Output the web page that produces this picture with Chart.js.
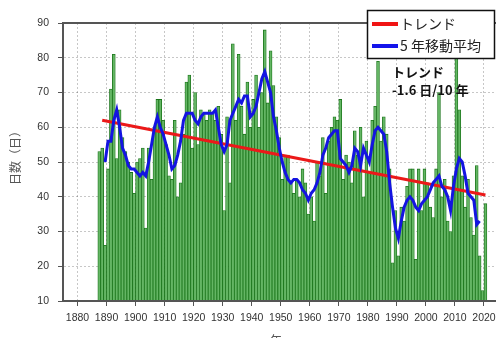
<!DOCTYPE html>
<html>
<head>
<meta charset="utf-8">
<script src="https://cdn.jsdelivr.net/npm/chart.js@4"></script>
<style>
  html, body { margin: 0; padding: 0; background: #fff; overflow: hidden; }
  #wrap { position: absolute; left: 0; top: 0; width: 510px; height: 338px; }
</style>
</head>
<body>
<div id="wrap"><canvas id="chart" width="510" height="338"></canvas></div>
<script>
// yearly counts (bars), 1887-2020
const firstYear = 1887;
const dayCounts = [
  53, 54, 26, 48, 71, 81, 51, 65, 57, 53,   // 1887-1896
  50, 47, 41, 50, 51, 54, 31, 54, 45, 60,   // 1897-1906
  68, 68, 62, 55, 46, 45, 62, 40, 44, 58,   // 1907-1916
  73, 75, 54, 70, 55, 65, 64, 62, 65, 64,   // 1917-1926
  62, 66, 58, 36, 63, 44, 84, 62, 81, 66,   // 1927-1936
  58, 73, 60, 68, 75, 60, 70, 88, 67, 82,   // 1937-1946
  72, 63, 57, 45, 52, 52, 44, 41, 45, 40,   // 1947-1956
  48, 44, 35, 40, 33, 50, 46, 57, 41, 56,   // 1957-1966
  60, 63, 62, 68, 45, 52, 50, 44, 59, 52,   // 1967-1976
  60, 40, 56, 47, 62, 66, 79, 56, 63, 58,   // 1977-1986
  48, 21, 36, 23, 37, 33, 43, 48, 48, 22,   // 1987-1996
  48, 36, 48, 44, 37, 34, 48, 70, 40, 45,   // 1997-2006
  33, 30, 46, 82, 65, 46, 37, 45, 34, 29,   // 2007-2016
  49, 23, 13, 38                            // 2017-2020
];

// 5-year moving average as drawn, 1889-2018
const maFirstYear = 1889;
const movingAvg = [
  50, 56, 56, 62, 65, 60, 54, 52, 49, 48,   // 1889-1898
  48, 47, 46, 47, 46, 50, 55, 60, 63, 60,   // 1899-1908
  58, 55, 52, 48, 49, 52, 56, 62, 64, 64,   // 1909-1918
  64, 62, 61, 63, 64, 64, 64, 64, 65, 60,   // 1919-1928
  55, 53, 55, 62, 64, 66, 68, 67, 69, 69,   // 1929-1938
  63, 64, 66, 70, 74, 76, 73, 70, 63, 59,   // 1939-1948
  54, 50, 47, 45, 44, 45, 45, 44, 42, 41,   // 1949-1958
  39, 41, 42, 44, 47, 52, 54, 57, 58, 59,   // 1959-1968
  59, 51, 50, 49, 47, 49, 54, 53, 49, 54,   // 1969-1978
  52, 50, 55, 59, 60, 59, 58, 53, 44, 37,   // 1979-1988
  31, 28, 33, 37, 39, 40, 39, 37, 36, 38,   // 1989-1998
  39, 40, 42, 44, 45, 46, 43, 42, 40, 36,   // 1999-2008
  43, 48, 51, 50, 46, 41, 40, 39, 32, 33    // 2009-2018
];

// linear trend (-1.6 days / 10 years)
const trendYears = [1888, 2020];
const trendValues = [62, 40.5];

const yTicks = [10, 20, 30, 40, 50, 60, 70, 80, 90];
const xTicks = [1880, 1890, 1900, 1910, 1920, 1930, 1940, 1950, 1960, 1970, 1980, 1990, 2000, 2010, 2020];

const legendLabels = ['トレンド', '5 年移動平均'];
const trendNote = ['トレンド', '-1.6 日/10 年'];
const yTitle = '日数（日）';
const xTitle = '年';

// bars sit on [year, year+1], so points go at the middle of that span
const barPoints = dayCounts.map((v, i) => ({ x: firstYear + i + 0.5, y: v }));
const maPoints = movingAvg.map((v, i) => ({ x: maFirstYear + i + 0.5, y: v }));
const trendPoints = trendYears.map((yr, i) => ({ x: yr + 0.5, y: trendValues[i] }));

const jpFont = '"Noto Sans CJK JP", "Noto Sans", sans-serif';

const overlay = {
  id: 'overlay',
  afterDraw(chart) {
    const ctx = chart.ctx;
    const a = chart.chartArea;
    ctx.save();

    // frame round the plot
    ctx.strokeStyle = '#555';
    ctx.lineWidth = 2;
    ctx.setLineDash([]);
    ctx.strokeRect(a.left, a.top, a.right - a.left, a.bottom - a.top);

    // axis titles
    ctx.fillStyle = '#555';
    ctx.font = '12px ' + jpFont;
    ctx.textAlign = 'center';
    ctx.textBaseline = 'middle';
    ctx.save();
    ctx.translate(15, 155);
    ctx.rotate(-Math.PI / 2);
    ctx.fillText(yTitle, 0, 0);
    ctx.restore();
    ctx.fillText(xTitle, 276, 340);

    // legend box
    ctx.fillStyle = '#fff';
    ctx.fillRect(367, 10, 128, 49);
    ctx.strokeStyle = '#111';
    ctx.lineWidth = 1.5;
    ctx.strokeRect(367.5, 10.5, 127, 48);

    const rows = [[24, 'rgb(240,20,20)'], [46, 'rgb(20,20,235)']];
    rows.forEach(([y, c], i) => {
      ctx.strokeStyle = c;
      ctx.lineWidth = 4;
      ctx.beginPath();
      ctx.moveTo(372, y);
      ctx.lineTo(398, y);
      ctx.stroke();
      ctx.fillStyle = '#222';
      ctx.font = '14px ' + jpFont;
      ctx.textAlign = 'left';
      ctx.fillText(legendLabels[i], 400, y);
    });

    // trend note
    ctx.fillStyle = '#111';
    ctx.font = 'bold 13px ' + jpFont;
    ctx.fillText(trendNote[0], 392, 72);
    ctx.fillText(trendNote[1], 392, 90);

    ctx.restore();
  }
};

new Chart(document.getElementById('chart'), {
  type: 'bar',
  data: {
    datasets: [
      {
        type: 'line',
        label: legendLabels[1],
        data: maPoints,
        borderColor: 'rgb(20,20,225)',
        borderWidth: 3,
        pointRadius: 0,
        tension: 0,
        order: 0
      },
      {
        type: 'line',
        label: legendLabels[0],
        data: trendPoints,
        borderColor: 'rgb(235,25,25)',
        borderWidth: 3,
        pointRadius: 0,
        order: 1
      },
      {
        type: 'bar',
        label: '日数',
        data: barPoints,
        backgroundColor: 'rgb(100,182,100)',
        borderColor: 'rgb(25,115,25)',
        borderWidth: 0.8,
        barPercentage: 1,
        categoryPercentage: 1,
        order: 2
      }
    ]
  },
  options: {
    responsive: false,
    animation: false,
    devicePixelRatio: 1,
    layout: { padding: { top: 23, right: 11.5, bottom: 0, left: 0 } },
    plugins: {
      legend: { display: false },
      tooltip: { enabled: false }
    },
    scales: {
      x: {
        type: 'linear',
        min: 1875,
        max: 2025,
        offset: false,
        afterBuildTicks: scale => { scale.ticks = xTicks.map(v => ({ value: v })); },
        afterFit: scale => { scale.height = 37; },
        ticks: {
          color: '#333',
          font: { family: 'Liberation Sans', size: 10.5 },
          padding: 6,
          maxRotation: 0,
          autoSkip: false,
          callback: v => String(v)
        },
        grid: {
          offset: false,
          color: 'rgba(0,0,0,0.22)',
          tickColor: '#555',
          tickLength: 5
        },
        border: { color: '#555', width: 2, dash: [2, 2] }
      },
      y: {
        min: 10,
        max: 90,
        afterBuildTicks: scale => { scale.ticks = yTicks.map(v => ({ value: v })); },
        afterFit: scale => { scale.width = 63; },
        ticks: {
          color: '#333',
          font: { family: 'Liberation Sans', size: 10.5 },
          padding: 9
        },
        grid: {
          color: 'rgba(0,0,0,0.22)',
          tickColor: '#555',
          tickLength: 5
        },
        border: { color: '#555', width: 2, dash: [2, 2] }
      }
    }
  },
  plugins: [overlay]
});
</script>
</body>
</html>
